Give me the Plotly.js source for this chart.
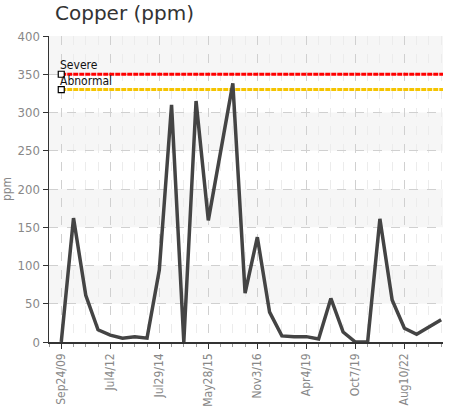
<!DOCTYPE html>
<html>
<head>
<meta charset="utf-8">
<script src="https://cdn.plot.ly/plotly-3.0.1.min.js"></script>
<style>html,body{margin:0;padding:0;background:#fff;}#chart{width:449px;height:410px;}</style>
</head>
<body>
<div id="chart"></div>
<script>
// Sample index along the x axis (one per oil sample)
const sampleIndex = [0,1,2,3,4,5,6,7,8,9,10,11,12,13,14,15,16,17,18,19,20,21,22,23,24,25,26,27,28,29,30,31];
// Copper readings (ppm)
const copperPpm = [0,162,61,16,9,5,7,5,94,310,0,315,159,248,338,64,137,39,8,7,7,4,57,13,0,0,161,55,18,10,20,29];
// Tick labels shown on the x axis and the sample they belong to
const tickIndex = [0,4,8,12,16,20,24,28];
const tickLabels = ["Sep24/09","Jul4/12","Jul29/14","May28/15","Nov3/16","Apr4/19","Oct7/19","Aug10/22"];
// Alarm limits
const limitNames = ["Severe","Abnormal"];
const limitValues = [350,330];
const limitColors = ["#ff0000","#f5c400"];

const xStart = sampleIndex[0];
const xEnd = sampleIndex[sampleIndex.length-1] + 0.15;
const condensed = '"DejaVu Sans Condensed","DejaVu Sans",sans-serif';

const traces = [];
limitValues.forEach((v,i)=>{
  traces.push({
    x:[xStart, xEnd], y:[v, v], mode:'lines',
    line:{color:limitColors[i], width:3, dash:'5px,1px'},
    hoverinfo:'skip', showlegend:false
  });
});
traces.push({
  x: sampleIndex, y: copperPpm, mode:'lines',
  line:{color:'#444444', width:3.5},
  showlegend:false
});
traces.push({
  x: limitValues.map(()=>xStart), y: limitValues, mode:'markers',
  marker:{symbol:'square', size:6, color:'#ffffff', line:{color:'#000', width:1.2}},
  cliponaxis:false, showlegend:false
});

const annotations = limitValues.map((v,i)=>({
  x:xStart, y:v, xref:'x', yref:'y', text:limitNames[i], showarrow:false,
  xanchor:'left', yanchor:'bottom', xshift:-3, yshift:0,
  font:{family:condensed, size:12, color:'#111', stretch:'condensed'}
}));

const shapes = [];
for (let g = 50; g < 400; g += 100) {
  shapes.push({type:'rect', xref:'paper', yref:'y', x0:0, x1:1, y0:g, y1:g+50,
    fillcolor:'#f6f6f6', line:{width:0}, layer:'below'});
}

const layout = {
  width:449, height:410,
  margin:{l:49, r:6, t:36, b:68},
  paper_bgcolor:'#ffffff', plot_bgcolor:'#ffffff',
  title:{text:'Copper (ppm)', x:55/449, xanchor:'left', y:0.985, yanchor:'top',
    font:{family:'"DejaVu Sans",Verdana,sans-serif', size:20, color:'#333'}},
  shapes: shapes,
  annotations: annotations,
  xaxis:{
    type:'linear', range:[-1, xEnd],
    tickmode:'array', tickvals:tickIndex, ticktext:tickLabels, tickangle:-90,
    tickfont:{family:condensed, size:12, color:'#888', stretch:'condensed'},
    showline:true, linecolor:'#333', linewidth:1.5,
    ticks:'outside', ticklen:5, tickcolor:'#333',
    showgrid:true, gridcolor:'#d0d0d0', griddash:'dash', gridwidth:1,
    minor:{tickmode:'linear', tick0:0, dtick:1, ticks:'outside', ticklen:3, tickcolor:'#999',
      showgrid:true, gridcolor:'#ececec', griddash:'dash', gridwidth:1},
    zeroline:false, fixedrange:true
  },
  yaxis:{
    range:[0,400], tick0:0, dtick:50,
    tickfont:{family:condensed, size:13, color:'#888', stretch:'condensed'},
    showline:true, linecolor:'#333', linewidth:1.5,
    ticks:'outside', ticklen:5, tickcolor:'#333',
    showgrid:true, gridcolor:'#d0d0d0', griddash:'dash', gridwidth:1,
    zeroline:false,
    title:{text:'ppm', standoff:6, font:{family:condensed, size:12, color:'#888', stretch:'condensed'}},
    fixedrange:true
  },
  showlegend:false
};

Plotly.newPlot('chart', traces, layout, {displayModeBar:false, staticPlot:true});
</script>
</body>
</html>
